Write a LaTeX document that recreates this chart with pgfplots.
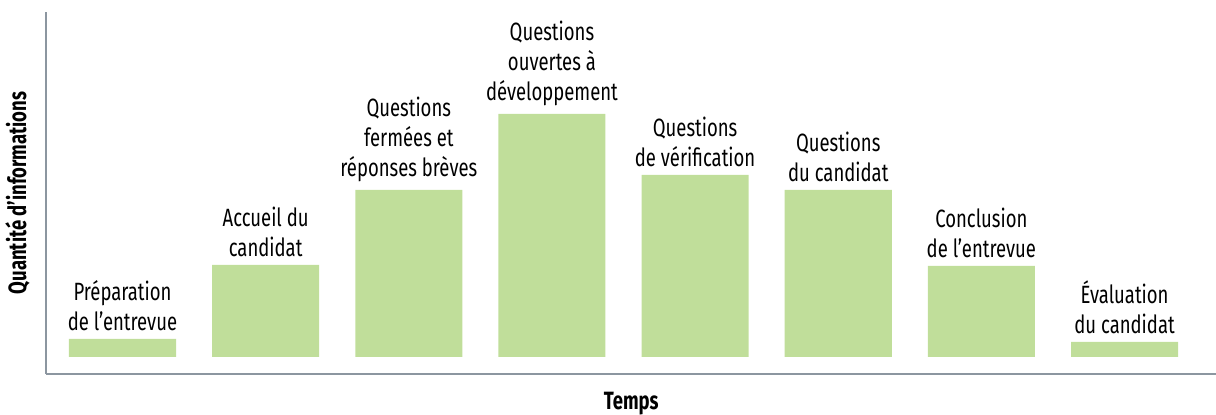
\documentclass[border=0pt]{standalone}
\usepackage{fontspec}
\setmainfont{Fira Sans}[FakeStretch=0.74]
\usepackage{pgfplots}
\pgfplotsset{compat=1.18}
\definecolor{barfill}{RGB}{192,222,154}
\definecolor{axisgray}{RGB}{140,150,160}

\begin{document}
\begin{tikzpicture}
\useasboundingbox (-23.25pt,-20.5pt) rectangle (584.75pt,187pt);
\begin{axis}[
  scale only axis,
  width=584.75pt, height=181pt,
  xmin=-0.531, xmax=7.639,
  ymin=-17, ymax=345,
  axis x line*=bottom, axis y line*=left,
  axis line style={axisgray, line width=1pt, -},
  xtick=\empty, ytick=\empty,
  ybar, bar width=0.748, bar shift=0pt,
  xlabel={\bfseries Temps},
  ylabel={\bfseries Quantité d'informations},
  xlabel style={at={(axis description cs:0.5,0)}, anchor=center, yshift=-15pt, font=\fontsize{12.5}{14}\selectfont},
  ylabel style={at={(axis description cs:0,0.5)}, anchor=center, yshift=14.5pt, font=\fontsize{12.5}{14}\selectfont},
  point meta=explicit symbolic,
  nodes near coords,
  every node near coord/.append style={align=center, anchor=south, yshift=2pt,
    inner sep=2pt, font=\fontsize{12.5}{15}\selectfont, text=black},
]
\addplot[fill=barfill, draw=none] coordinates {
  (0,18)  [{Préparation\\de l’entrevue}]
  (1,92)  [{Accueil du\\candidat}]
  (2,167) [{Questions\\fermées et\\réponses brèves}]
  (3,243) [{Questions\\ouvertes à\\développement}]
  (4,182) [{Questions\\de vérification}]
  (5,167) [{Questions\\du candidat}]
  (6,91)  [{Conclusion\\de l’entrevue}]
  (7,15)  [{Évaluation\\du candidat}]
};
\end{axis}
\end{tikzpicture}
\end{document}
